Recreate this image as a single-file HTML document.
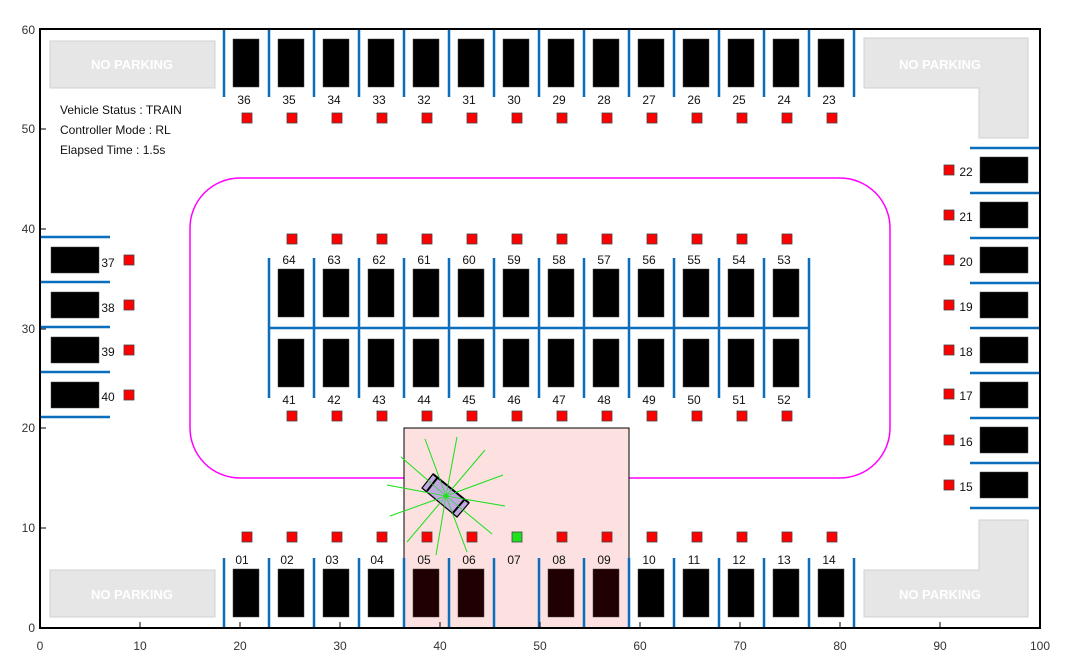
<!DOCTYPE html>
<html><head><style>body{margin:0;background:#fff}svg{display:block}text{font-family:"Liberation Sans",sans-serif}</style></head><body>
<svg width="1067" height="661" xmlns="http://www.w3.org/2000/svg">
<rect width="1067" height="661" fill="#fff"/>
<!-- no parking -->
<g fill="#e6e6e6" stroke="#d0d0d0" stroke-width="1">
<rect x="50" y="41" width="165" height="47"/>
<rect x="50" y="570" width="165" height="47"/>
<path d="M864 38 H1028 V138 H979 V88 H864 Z"/>
<path d="M979 520 H1028 V617 H864 V570 H979 Z"/>
</g>
<g fill="#fff" font-size="13" font-weight="bold" text-anchor="middle">
<text x="132" y="69">NO PARKING</text><text x="940" y="69">NO PARKING</text>
<text x="132" y="599">NO PARKING</text><text x="940" y="599">NO PARKING</text>
</g>
<!-- magenta -->
<rect x="190" y="178" width="700" height="300" rx="50" fill="none" stroke="#f0f" stroke-width="1.5"/>
<!-- pink target -->
<rect x="404" y="428" width="225" height="200" fill="#fde1e1" stroke="#000" stroke-width="1"/>
<!-- blue dividers -->
<g stroke="#0a6ebd" stroke-width="2.5">
<path d="M224 29V97M269 29V97M314 29V97M359 29V97M404 29V97M449 29V97M494 29V97M539 29V97M584 29V97M629 29V97M674 29V97M719 29V97M764 29V97M809 29V97M854 29V97"/>
<path d="M224 558V628M269 558V628M314 558V628M359 558V628M404 558V628M449 558V628M494 558V628M539 558V628M584 558V628M629 558V628M674 558V628M719 558V628M764 558V628M809 558V628M854 558V628"/>
<path d="M269 258V398M314 258V398M359 258V398M404 258V398M449 258V398M494 258V398M539 258V398M584 258V398M629 258V398M674 258V398M719 258V398M764 258V398M809 258V398M269 328H809"/>
<path d="M40 237H110M40 282H110M40 327H110M40 372H110M40 417H110"/>
<path d="M970 148H1040M970 193H1040M970 238H1040M970 283H1040M970 328H1040M970 373H1040M970 418H1040M970 463H1040M970 508H1040"/>
</g>
<!-- cars -->
<g fill="#000" stroke="#444" stroke-width="0.5">
<rect x="233" y="39" width="26" height="48"/><rect x="278" y="39" width="26" height="48"/><rect x="323" y="39" width="26" height="48"/><rect x="368" y="39" width="26" height="48"/><rect x="413" y="39" width="26" height="48"/><rect x="458" y="39" width="26" height="48"/><rect x="503" y="39" width="26" height="48"/><rect x="548" y="39" width="26" height="48"/><rect x="593" y="39" width="26" height="48"/><rect x="638" y="39" width="26" height="48"/><rect x="683" y="39" width="26" height="48"/><rect x="728" y="39" width="26" height="48"/><rect x="773" y="39" width="26" height="48"/><rect x="818" y="39" width="26" height="48"/>
<rect x="233" y="569" width="26" height="48"/><rect x="278" y="569" width="26" height="48"/><rect x="323" y="569" width="26" height="48"/><rect x="368" y="569" width="26" height="48"/>
<rect x="413" y="569" width="26" height="48" fill="#200000"/><rect x="458" y="569" width="26" height="48" fill="#200000"/><rect x="548" y="569" width="26" height="48" fill="#200000"/><rect x="593" y="569" width="26" height="48" fill="#200000"/>
<rect x="638" y="569" width="26" height="48"/><rect x="683" y="569" width="26" height="48"/><rect x="728" y="569" width="26" height="48"/><rect x="773" y="569" width="26" height="48"/><rect x="818" y="569" width="26" height="48"/>
<rect x="278" y="269" width="26" height="48"/><rect x="323" y="269" width="26" height="48"/><rect x="368" y="269" width="26" height="48"/><rect x="413" y="269" width="26" height="48"/><rect x="458" y="269" width="26" height="48"/><rect x="503" y="269" width="26" height="48"/><rect x="548" y="269" width="26" height="48"/><rect x="593" y="269" width="26" height="48"/><rect x="638" y="269" width="26" height="48"/><rect x="683" y="269" width="26" height="48"/><rect x="728" y="269" width="26" height="48"/><rect x="773" y="269" width="26" height="48"/>
<rect x="278" y="339" width="26" height="48"/><rect x="323" y="339" width="26" height="48"/><rect x="368" y="339" width="26" height="48"/><rect x="413" y="339" width="26" height="48"/><rect x="458" y="339" width="26" height="48"/><rect x="503" y="339" width="26" height="48"/><rect x="548" y="339" width="26" height="48"/><rect x="593" y="339" width="26" height="48"/><rect x="638" y="339" width="26" height="48"/><rect x="683" y="339" width="26" height="48"/><rect x="728" y="339" width="26" height="48"/><rect x="773" y="339" width="26" height="48"/>
<rect x="51" y="247" width="48" height="26"/><rect x="51" y="292" width="48" height="26"/><rect x="51" y="337" width="48" height="26"/><rect x="51" y="382" width="48" height="26"/>
<rect x="980" y="157" width="48" height="26"/><rect x="980" y="202" width="48" height="26"/><rect x="980" y="247" width="48" height="26"/><rect x="980" y="292" width="48" height="26"/><rect x="980" y="337" width="48" height="26"/><rect x="980" y="382" width="48" height="26"/><rect x="980" y="427" width="48" height="26"/><rect x="980" y="472" width="48" height="26"/>
</g>
<!-- red squares -->
<g fill="#f00" stroke="#444" stroke-width="0.8">
<rect x="242" y="113" width="10" height="10"/><rect x="287" y="113" width="10" height="10"/><rect x="332" y="113" width="10" height="10"/><rect x="377" y="113" width="10" height="10"/><rect x="422" y="113" width="10" height="10"/><rect x="467" y="113" width="10" height="10"/><rect x="512" y="113" width="10" height="10"/><rect x="557" y="113" width="10" height="10"/><rect x="602" y="113" width="10" height="10"/><rect x="647" y="113" width="10" height="10"/><rect x="692" y="113" width="10" height="10"/><rect x="737" y="113" width="10" height="10"/><rect x="782" y="113" width="10" height="10"/><rect x="827" y="113" width="10" height="10"/>
<rect x="242" y="532" width="10" height="10"/><rect x="287" y="532" width="10" height="10"/><rect x="332" y="532" width="10" height="10"/><rect x="377" y="532" width="10" height="10"/><rect x="422" y="532" width="10" height="10"/><rect x="467" y="532" width="10" height="10"/><rect x="512" y="532" width="10" height="10" fill="#1ee01e"/><rect x="557" y="532" width="10" height="10"/><rect x="602" y="532" width="10" height="10"/><rect x="647" y="532" width="10" height="10"/><rect x="692" y="532" width="10" height="10"/><rect x="737" y="532" width="10" height="10"/><rect x="782" y="532" width="10" height="10"/><rect x="827" y="532" width="10" height="10"/>
<rect x="287" y="234" width="10" height="10"/><rect x="332" y="234" width="10" height="10"/><rect x="377" y="234" width="10" height="10"/><rect x="422" y="234" width="10" height="10"/><rect x="467" y="234" width="10" height="10"/><rect x="512" y="234" width="10" height="10"/><rect x="557" y="234" width="10" height="10"/><rect x="602" y="234" width="10" height="10"/><rect x="647" y="234" width="10" height="10"/><rect x="692" y="234" width="10" height="10"/><rect x="737" y="234" width="10" height="10"/><rect x="782" y="234" width="10" height="10"/>
<rect x="287" y="411" width="10" height="10"/><rect x="332" y="411" width="10" height="10"/><rect x="377" y="411" width="10" height="10"/><rect x="422" y="411" width="10" height="10"/><rect x="467" y="411" width="10" height="10"/><rect x="512" y="411" width="10" height="10"/><rect x="557" y="411" width="10" height="10"/><rect x="602" y="411" width="10" height="10"/><rect x="647" y="411" width="10" height="10"/><rect x="692" y="411" width="10" height="10"/><rect x="737" y="411" width="10" height="10"/><rect x="782" y="411" width="10" height="10"/>
<rect x="124" y="255" width="10" height="10"/><rect x="124" y="300" width="10" height="10"/><rect x="124" y="345" width="10" height="10"/><rect x="124" y="390" width="10" height="10"/>
<rect x="944" y="165" width="10" height="10"/><rect x="944" y="210" width="10" height="10"/><rect x="944" y="255" width="10" height="10"/><rect x="944" y="300" width="10" height="10"/><rect x="944" y="345" width="10" height="10"/><rect x="944" y="389" width="10" height="10"/><rect x="944" y="435" width="10" height="10"/><rect x="944" y="480" width="10" height="10"/>
</g>
<!-- labels -->
<g font-size="12" fill="#111" text-anchor="middle">
<text x="244" y="104">36</text><text x="289" y="104">35</text><text x="334" y="104">34</text><text x="379" y="104">33</text><text x="424" y="104">32</text><text x="469" y="104">31</text><text x="514" y="104">30</text><text x="559" y="104">29</text><text x="604" y="104">28</text><text x="649" y="104">27</text><text x="694" y="104">26</text><text x="739" y="104">25</text><text x="784" y="104">24</text><text x="829" y="104">23</text>
<text x="242" y="564">01</text><text x="287" y="564">02</text><text x="332" y="564">03</text><text x="377" y="564">04</text><text x="424" y="564">05</text><text x="469" y="564">06</text><text x="514" y="564">07</text><text x="559" y="564">08</text><text x="604" y="564">09</text><text x="649" y="564">10</text><text x="694" y="564">11</text><text x="739" y="564">12</text><text x="784" y="564">13</text><text x="829" y="564">14</text>
<text x="289" y="264">64</text><text x="334" y="264">63</text><text x="379" y="264">62</text><text x="424" y="264">61</text><text x="469" y="264">60</text><text x="514" y="264">59</text><text x="559" y="264">58</text><text x="604" y="264">57</text><text x="649" y="264">56</text><text x="694" y="264">55</text><text x="739" y="264">54</text><text x="784" y="264">53</text>
<text x="289" y="404">41</text><text x="334" y="404">42</text><text x="379" y="404">43</text><text x="424" y="404">44</text><text x="469" y="404">45</text><text x="514" y="404">46</text><text x="559" y="404">47</text><text x="604" y="404">48</text><text x="649" y="404">49</text><text x="694" y="404">50</text><text x="739" y="404">51</text><text x="784" y="404">52</text>
<text x="108" y="267">37</text><text x="108" y="312">38</text><text x="108" y="356">39</text><text x="108" y="401">40</text>
<text x="966" y="176">22</text><text x="966" y="221">21</text><text x="966" y="266">20</text><text x="966" y="311">19</text><text x="966" y="356">18</text><text x="966" y="400">17</text><text x="966" y="446">16</text><text x="966" y="491">15</text>
</g>
<g font-size="12" fill="#111">
<text x="60" y="114">Vehicle Status : TRAIN</text>
<text x="60" y="134">Controller Mode : RL</text>
<text x="60" y="154">Elapsed Time : 1.5s</text>
</g>
<!-- lidar -->
<g stroke="#22e022" stroke-width="1">
<path d="M446 496L425 439M446 496L457 437M446 496L485 450M446 496L503 475M446 496L505 506M446 496L492 534M446 496L467 552M446 496L436 555M446 496L407 542M446 496L390 516M446 496L387 485M446 496L401 457"/>
</g>
<!-- ego car -->
<polygon points="433,474 422,488 457,517 469,503" fill="#c0a8e0" stroke="#000" stroke-width="1.2"/>
<path d="M438,477 L427,491 M464,500 L452,514" stroke="#000" stroke-width="2"/>
<path d="M433,474 L469,503" stroke="#000" stroke-width="2"/>
<g stroke="#22e022"><path d="M446 496L425 439M446 496L457 437M446 496L485 450M446 496L503 475M446 496L505 506M446 496L492 534M446 496L467 552M446 496L436 555M446 496L407 542M446 496L390 516M446 496L387 485M446 496L401 457" stroke-width="0.7"/></g>
<circle cx="446" cy="496" r="2.5" fill="#22e022"/>
<!-- axes -->
<rect x="40" y="29" width="1000" height="599" fill="none" stroke="#000" stroke-width="2"/>
<g stroke="#000" stroke-width="1">
<path d="M140 628v-6M240 628v-6M340 628v-6M440 628v-6M540 628v-6M640 628v-6M740 628v-6M840 628v-6M940 628v-6M40 528h6M40 428h6M40 329h6M40 229h6M40 129h6"/>
</g>
<g font-size="12" fill="#333" text-anchor="middle">
<text x="40" y="650">0</text><text x="140" y="650">10</text><text x="240" y="650">20</text><text x="340" y="650">30</text><text x="440" y="650">40</text><text x="540" y="650">50</text><text x="640" y="650">60</text><text x="740" y="650">70</text><text x="840" y="650">80</text><text x="940" y="650">90</text><text x="1040" y="650">100</text>
</g>
<g font-size="12" fill="#333" text-anchor="end">
<text x="35" y="632">0</text><text x="35" y="532">10</text><text x="35" y="432">20</text><text x="35" y="333">30</text><text x="35" y="233">40</text><text x="35" y="133">50</text><text x="35" y="34">60</text>
</g>
</svg>
</body></html>
